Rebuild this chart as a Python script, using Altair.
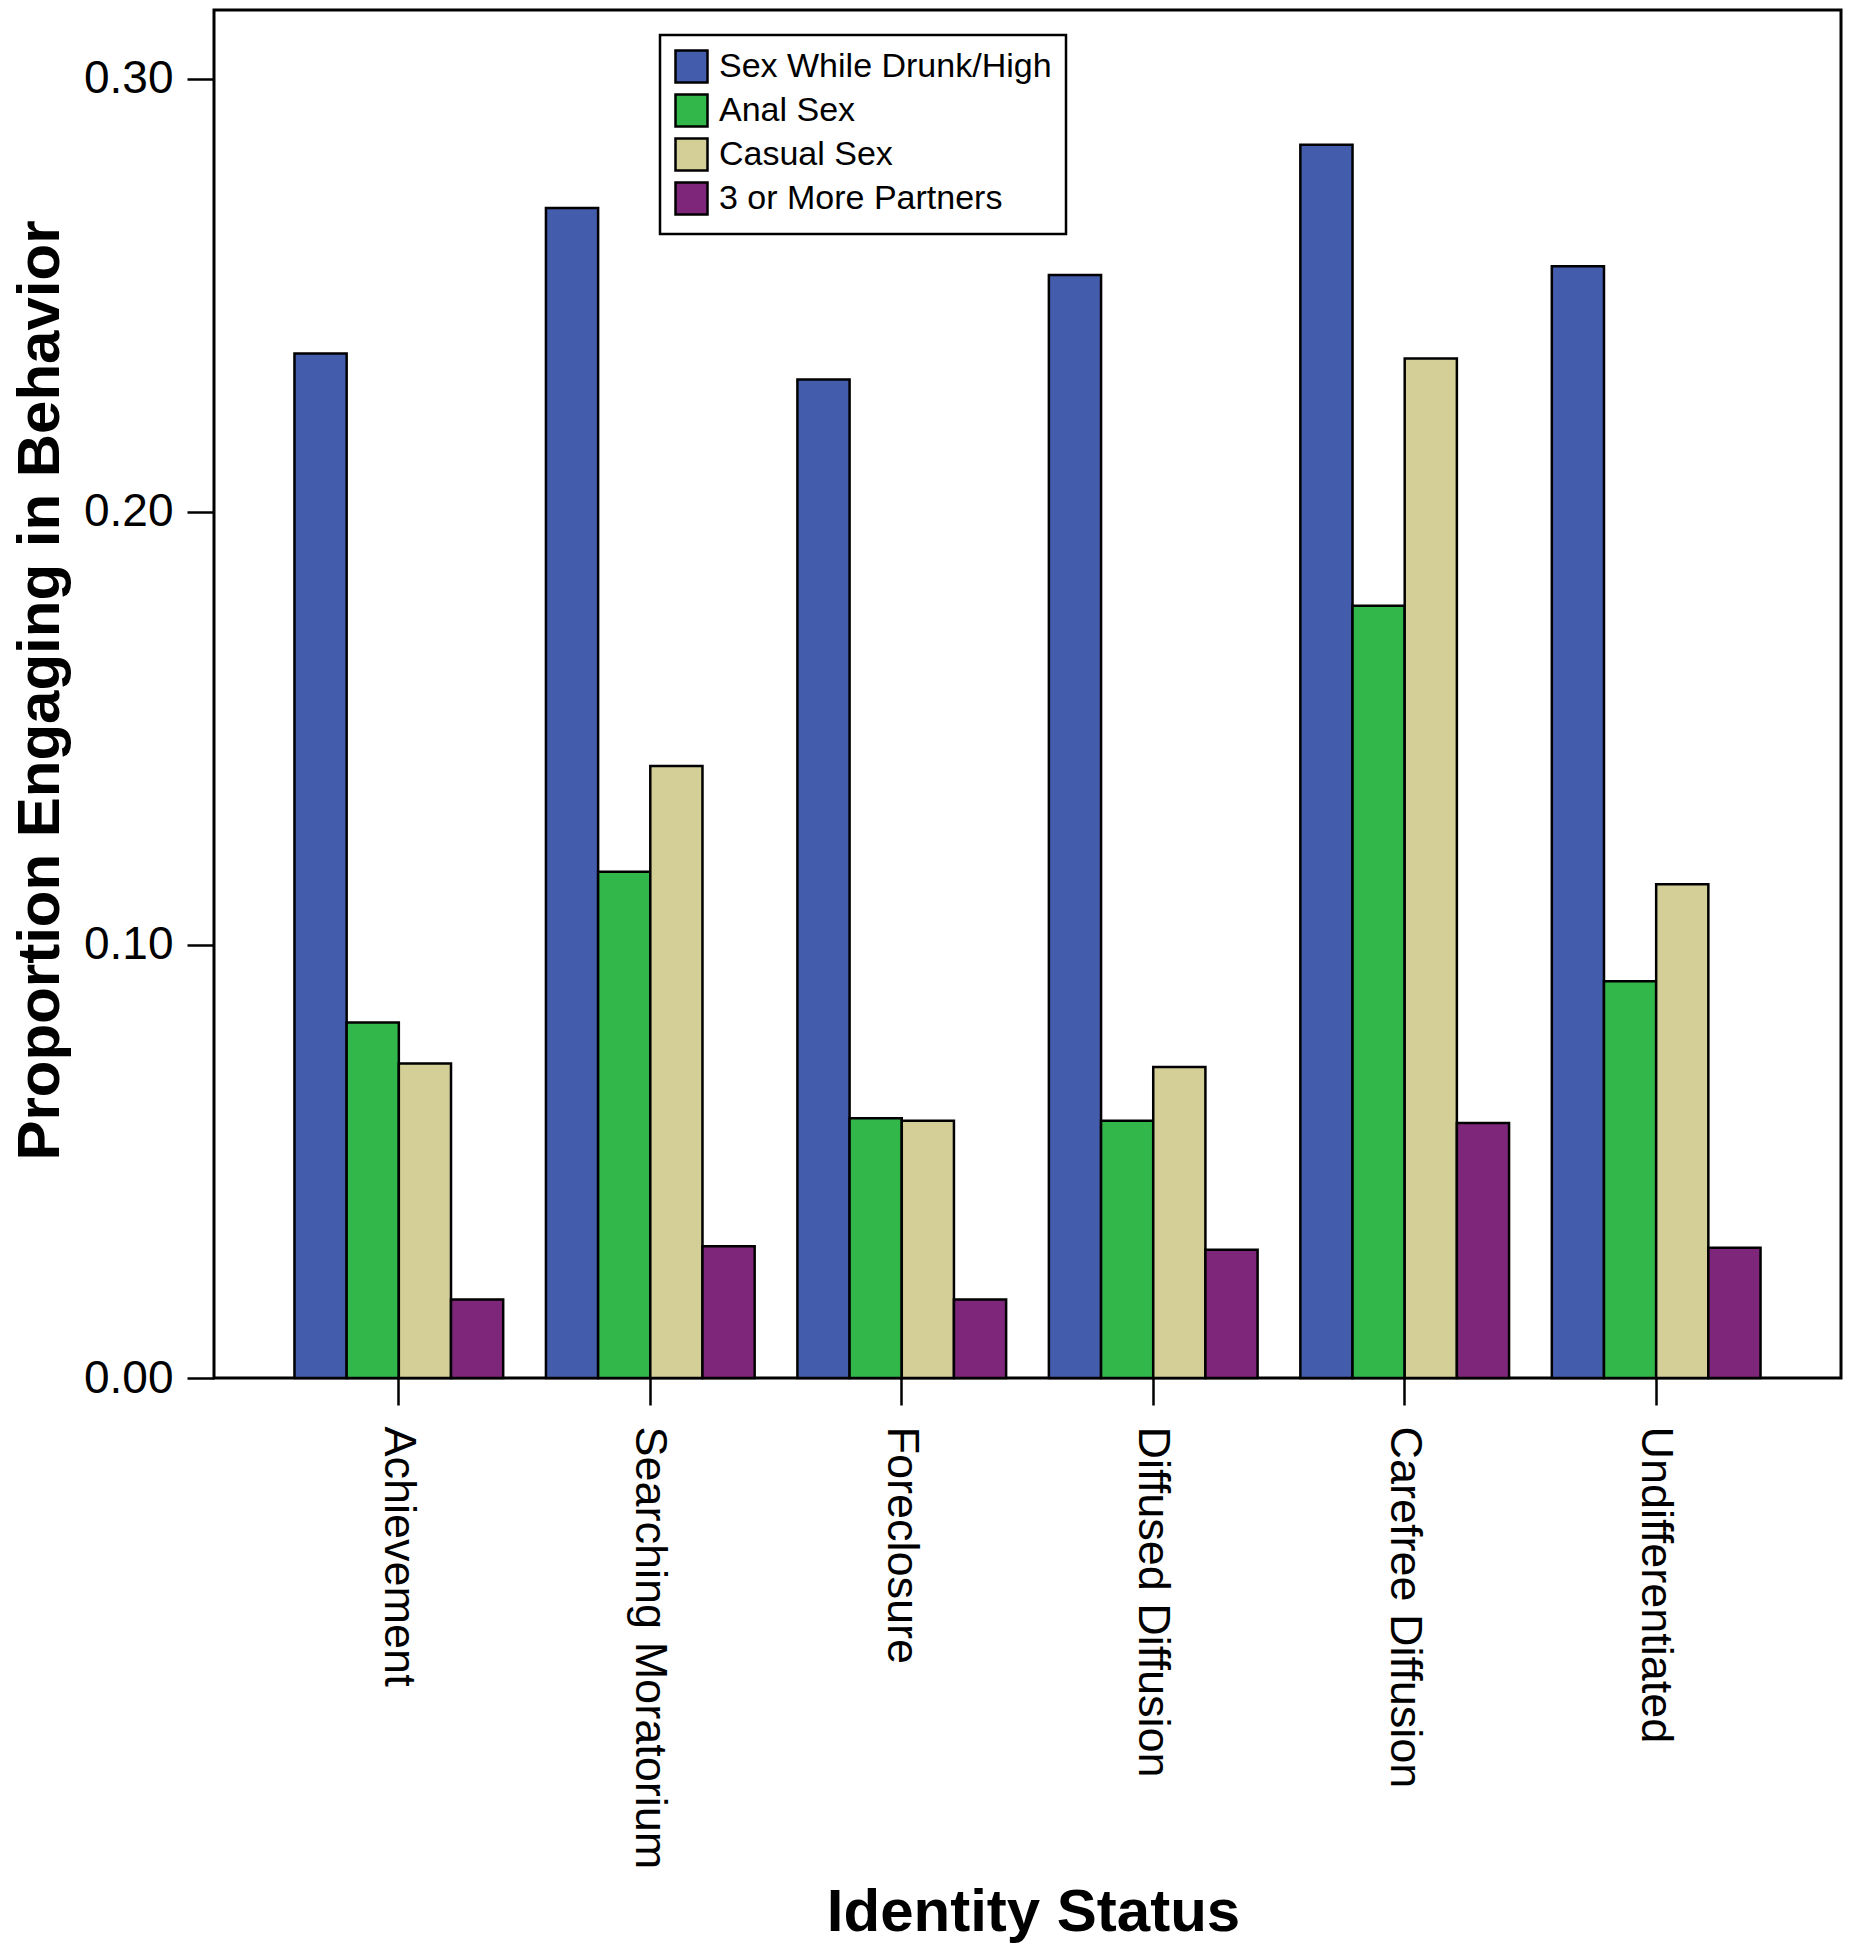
import altair as alt
import pandas as pd

statuses = ["Achievement", "Searching Moratorium", "Foreclosure",
            "Diffused Diffusion", "Carefree Diffusion", "Undifferentiated"]
behaviors = ["Sex While Drunk/High", "Anal Sex", "Casual Sex", "3 or More Partners"]
colors = ["#435CAC", "#32B74A", "#D4CF96", "#7E267A"]

drunk_high = [0.2366, 0.2702, 0.2306, 0.2547, 0.2848, 0.2567]
anal_sex = [0.0821, 0.1169, 0.0600, 0.0594, 0.1783, 0.0916]
casual_sex = [0.0726, 0.1413, 0.0594, 0.0718, 0.2354, 0.1140]
three_plus = [0.0181, 0.0304, 0.0181, 0.0296, 0.0589, 0.0301]

series = [drunk_high, anal_sex, casual_sex, three_plus]
rows = []
for b, vals in zip(behaviors, series):
    for s, v in zip(statuses, vals):
        rows.append({"status": s, "behavior": b, "value": v})
df = pd.DataFrame(rows)

LABEL_FONT = "Liberation Sans, Arial, Helvetica"
BOLD_FONT = "Liberation Sans, Arial, Helvetica"

chart = alt.Chart(df).mark_bar(stroke="black", strokeWidth=2.5).encode(
    x=alt.X("status:N", sort=statuses,
            scale=alt.Scale(paddingInner=0.17, paddingOuter=0.32),
            axis=alt.Axis(title="Identity Status", labelAngle=90,
                          labelFont=LABEL_FONT, labelFontSize=45,
                          labelColor="black", labelPadding=21,
                          labelLimit=0,
                          tickSize=27, tickWidth=2.5, tickColor="black",
                          domain=False,
                          titleFont=BOLD_FONT, titleFontSize=60,
                          titleFontWeight="bold", titleColor="black",
                          titleX=819, titleY=552, titleAlign="center",
                          titleBaseline="alphabetic")),
    xOffset=alt.XOffset("behavior:N", sort=behaviors,
                        scale=alt.Scale(paddingInner=0, paddingOuter=0)),
    y=alt.Y("value:Q",
            scale=alt.Scale(domain=[0, 0.3159], nice=False, zero=True),
            axis=alt.Axis(title="Proportion Engaging in Behavior",
                          values=[0, 0.1, 0.2, 0.3], format=".2f",
                          labelFont=LABEL_FONT, labelFontSize=46,
                          labelColor="black", labelPadding=14,
                          tickSize=27, tickWidth=2.5, tickColor="black",
                          domain=False, grid=False,
                          titleFont=BOLD_FONT, titleFontSize=60,
                          titleFontWeight="bold", titleColor="black",
                          titleAngle=-90, titleX=-156, titleY=680,
                          titleAlign="center", titleBaseline="alphabetic")),
    color=alt.Color("behavior:N", sort=behaviors,
                    scale=alt.Scale(domain=behaviors, range=colors),
                    legend=alt.Legend(title=None, orient="none",
                                      legendX=446, legendY=25,
                                      strokeColor="black", padding=14,
                                      fillColor="white",
                                      symbolType="square", symbolSize=1024,
                                      symbolStrokeColor="black",
                                      symbolStrokeWidth=2.5,
                                      symbolOpacity=1,
                                      labelFont=BOLD_FONT, labelFontSize=34,
                                      labelColor="black", labelOffset=10,
                                      rowPadding=1, labelLimit=0)),
).properties(
    width=1627, height=1368,
    autosize=alt.AutoSizeParams(type="none"),
    padding={"left": 206, "top": 2, "right": 6, "bottom": 570},
).configure_view(
    stroke="black", strokeWidth=3
).configure_legend(
    strokeWidth=2.5
)

chart.save("out.html", embed_options={"renderer": "svg", "actions": False})
